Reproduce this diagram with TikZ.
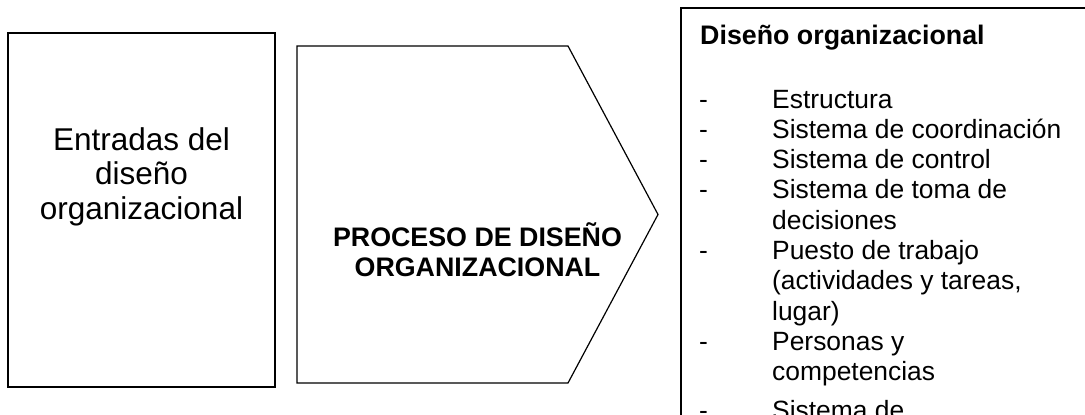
\documentclass[tikz,border=0pt]{standalone}
\usepackage{fontspec}
\setmainfont{Liberation Sans}
\begin{document}
\begin{tikzpicture}[x=1pt,y=-1pt,
  thickbox/.style={draw=black,line width=2pt,inner sep=0pt},
  thinshape/.style={draw=black,line width=1.2pt,line join=miter},
  bigtext/.style={inner sep=0pt,align=center,font=\fontsize{31.5}{34.5}\selectfont},
  boldtext/.style={inner sep=0pt,align=center,font=\bfseries\fontsize{26.8}{30}\selectfont},
  itemtext/.style={inner sep=0pt,anchor=base west,align=left,font=\fontsize{26.4}{30.3}\selectfont},
]
\useasboundingbox (0,0) rectangle (1085,415);
\clip (0,0) rectangle (1085,415);
% left box
\node[thickbox,minimum width=267pt,minimum height=354pt] (entradas) at (141.5,210) {};
\node[bigtext,anchor=base] (entradastxt) at (141.5,219) {Entradas del\\diseño\\organizacional};
% middle pentagon arrow
\draw[thinshape] (297,46) -- (568,46) -- (658,214.5) -- (568,383) -- (297,383) -- cycle;
\node[boldtext,anchor=base] (proceso) at (477.5,276) {PROCESO DE DISEÑO\\ORGANIZACIONAL};
% right box (cut by the picture edges)
\draw[line width=2pt] (681,440) -- (681,8) -- (1100,8);
\node[anchor=base west,inner sep=0pt,font=\bfseries\fontsize{26.8}{30}\selectfont] (titulo) at (700,44) {Diseño organizacional};
\foreach \k/\t in {0/Estructura,1/Sistema de coordinación,2/Sistema de control,3/Sistema de toma de,4/decisiones,5/Puesto de trabajo,6/{(actividades y tareas,},7/lugar),8/Personas y,9/competencias}{
  \node[itemtext] (it\k) at (772,108+30.3*\k) {\t};
}
\node[itemtext] (it10) at (772,419) {Sistema de};
\foreach \k in {0,1,2,3,5,8}{
  \node[itemtext] (d\k) at (699,108+30.3*\k) {-};
}
\node[itemtext] (d10) at (699,419) {-};
\end{tikzpicture}
\end{document}
